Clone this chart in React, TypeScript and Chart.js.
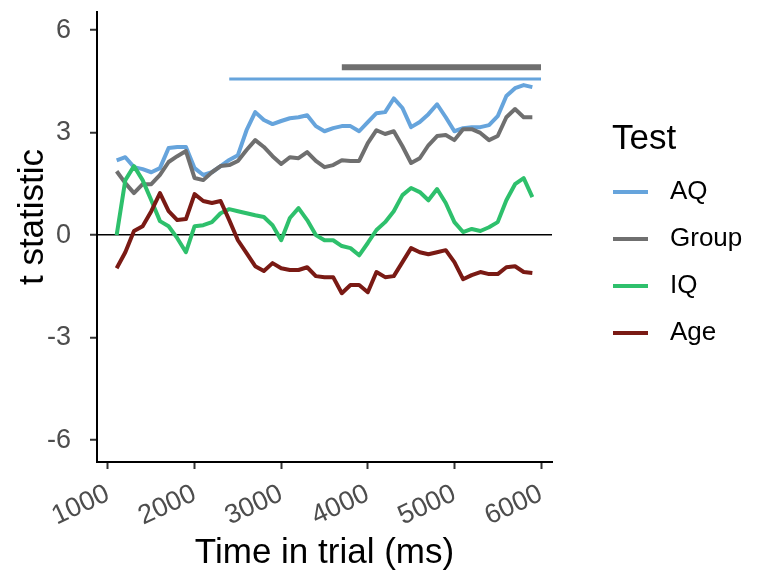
import React, { useEffect, useRef } from 'react';
import { Chart, registerables } from 'chart.js';

Chart.register(...registerables);

const times = [
  1100, 1200, 1300, 1400, 1500, 1600, 1700, 1800, 1900, 2000,
  2100, 2200, 2300, 2400, 2500, 2600, 2700, 2800, 2900, 3000,
  3100, 3200, 3300, 3400, 3500, 3600, 3700, 3800, 3900, 4000,
  4100, 4200, 4300, 4400, 4500, 4600, 4700, 4800, 4900, 5000,
  5100, 5200, 5300, 5400, 5500, 5600, 5700, 5800, 5900,
];

const aq = [
  2.19, 2.28, 1.99, 1.93, 1.84, 1.96, 2.55, 2.58, 2.58, 1.96,
  1.76, 1.84, 2.02, 2.2, 2.34, 3.07, 3.6, 3.37, 3.25, 3.34,
  3.42, 3.45, 3.51, 3.19, 3.04, 3.13, 3.19, 3.19, 3.04, 3.31,
  3.57, 3.6, 4.0, 3.72, 3.16, 3.31, 3.54, 3.83, 3.45, 3.04,
  3.13, 3.16, 3.16, 3.22, 3.48, 4.07, 4.3, 4.39, 4.33,
];

const group = [
  1.87, 1.52, 1.23, 1.49, 1.49, 1.76, 2.14, 2.31, 2.46, 1.67,
  1.61, 1.84, 2.02, 2.05, 2.17, 2.49, 2.78, 2.58, 2.31, 2.08,
  2.28, 2.25, 2.43, 2.17, 1.99, 2.05, 2.19, 2.17, 2.17, 2.69,
  3.07, 2.96, 3.04, 2.6, 2.11, 2.25, 2.63, 2.9, 2.93, 2.78,
  3.1, 3.1, 2.99, 2.78, 2.9, 3.45, 3.69, 3.45, 3.45,
];

const iq = [
  0, 1.61, 2.02, 1.61, 1.02, 0.41, 0.26, -0.09, -0.5, 0.26,
  0.29, 0.38, 0.64, 0.76, 0.7, 0.64, 0.58, 0.53, 0.29, -0.15,
  0.5, 0.79, 0.44, 0, -0.15, -0.15, -0.32, -0.38, -0.59, -0.23,
  0.15, 0.38, 0.7, 1.17, 1.38, 1.26, 1.02, 1.35, 0.94, 0.38,
  0.09, 0.18, 0.12, 0.23, 0.38, 1.02, 1.49, 1.67, 1.11,
];

const age = [
  -0.97, -0.5, 0.12, 0.26, 0.7, 1.23, 0.7, 0.44, 0.47, 1.2,
  1.0, 0.94, 1.0, 0.44, -0.15, -0.53, -0.91, -1.05, -0.82, -0.97,
  -1.02, -1.02, -0.94, -1.2, -1.23, -1.23, -1.7, -1.46, -1.46, -1.67,
  -1.08, -1.23, -1.2, -0.79, -0.38, -0.5, -0.56, -0.5, -0.44, -0.79,
  -1.29, -1.17, -1.08, -1.14, -1.14, -0.94, -0.91, -1.08, -1.11,
];

const seriesNames = ['AQ', 'Group', 'IQ', 'Age'];
const seriesColors = ['#66a4dc', '#6f6f6f', '#2ec06c', '#7a1a14'];
const legendTitle = 'Test';
const yTitle = 't statistic';
const xTitle = 'Time in trial (ms)';

// significance bars (time range, t level)
const sigAQRange = [2400, 6000];
const sigAQLevel = 4.57;
const sigGroupRange = [3700, 6000];
const sigGroupLevel = 4.91;

const xTicks = [1000, 2000, 3000, 4000, 5000, 6000];
const yTicks = [-6, -3, 0, 3, 6];
const xMin = 873;
const xMax = 6127;
const yMin = -6.64;
const yMax = 6.53;

const FONT = "'Liberation Sans', Arial, Helvetica, sans-serif";

export default function App() {
  const ref = useRef<HTMLCanvasElement>(null);

  useEffect(() => {
    const canvas = ref.current;
    if (!canvas) return;
    const allSeries = [aq, group, iq, age];

    const lineSets = allSeries.map((vals, i) => ({
      label: seriesNames[i],
      data: times.map((t, j) => ({ x: t, y: vals[j] })),
      borderColor: seriesColors[i],
      backgroundColor: seriesColors[i],
      borderWidth: 4,
      pointRadius: 0,
      fill: false,
      tension: 0,
      borderJoinStyle: 'round' as const,
      order: 10 - i,
    }));

    const sigSets = [
      {
        label: 'sigAQ',
        data: sigAQRange.map((t) => ({ x: t, y: sigAQLevel })),
        borderColor: seriesColors[0],
        borderWidth: 3,
        pointRadius: 0,
        fill: false,
        order: 1,
      },
      {
        label: 'sigGroup',
        data: sigGroupRange.map((t) => ({ x: t, y: sigGroupLevel })),
        borderColor: seriesColors[1],
        borderWidth: 6,
        pointRadius: 0,
        fill: false,
        order: 1,
      },
    ];

    const textPlugin = {
      id: 'customText',
      afterDraw(chart: any) {
        const c = chart.ctx;
        c.save();
        c.fillStyle = '#000';
        c.textAlign = 'left';
        c.textBaseline = 'middle';
        c.font = `35px ${FONT}`;
        c.fillText(legendTitle, 612, 139);
        c.font = `26px ${FONT}`;
        seriesNames.forEach((n, i) => {
          const y = 192 + i * 47;
          c.strokeStyle = seriesColors[i];
          c.lineWidth = 4;
          c.beginPath();
          c.moveTo(613, y);
          c.lineTo(648, y);
          c.stroke();
          c.fillStyle = '#000';
          c.fillText(n, 670, y);
        });
        // y axis title
        c.translate(33, 217);
        c.rotate(-Math.PI / 2);
        c.textAlign = 'center';
        c.font = `35px ${FONT}`;
        c.fillText(yTitle, 0, 0);
        c.restore();
      },
    };

    const chart = new Chart(canvas, {
      type: 'line',
      data: { datasets: [...lineSets, ...sigSets] as any },
      options: {
        animation: false,
        responsive: true,
        maintainAspectRatio: false,
        layout: { padding: { top: 12, right: 205, left: 0, bottom: 0 } },
        plugins: { legend: { display: false }, tooltip: { enabled: false } },
        scales: {
          x: {
            type: 'linear',
            min: xMin,
            max: xMax,
            afterBuildTicks: (s: any) => {
              s.ticks = xTicks.map((v) => ({ value: v }));
            },
            afterFit: (s: any) => {
              s.height = 115;
              s.paddingLeft = 0;
              s.paddingRight = 0;
            },
            ticks: {
              callback: (v: any) => String(v),
              minRotation: 25,
              maxRotation: 25,
              autoSkip: false,
              color: '#4d4d4d',
              padding: 9,
              font: { size: 27, family: FONT },
            },
            grid: {
              drawOnChartArea: false,
              drawTicks: true,
              tickLength: 7,
              tickColor: '#333',
              tickWidth: 2,
            },
            border: { display: true, color: '#000', width: 2 },
            title: {
              display: true,
              text: xTitle,
              color: '#000',
              font: { size: 35, family: FONT },
              padding: { top: 0, bottom: 3 },
            },
          },
          y: {
            type: 'linear',
            min: yMin,
            max: yMax,
            afterBuildTicks: (s: any) => {
              s.ticks = yTicks.map((v) => ({ value: v }));
            },
            afterFit: (s: any) => {
              s.width = 97;
              s.paddingTop = 0;
              s.paddingBottom = 0;
            },
            ticks: {
              callback: (v: any) => String(v),
              color: '#4d4d4d',
              padding: 19,
              font: { size: 27, family: FONT },
            },
            grid: {
              drawOnChartArea: true,
              drawTicks: true,
              tickLength: 7,
              tickColor: '#333',
              tickWidth: 2,
              lineWidth: 1.5,
              color: (ctx: any) => (ctx.tick && ctx.tick.value === 0 ? '#000' : 'rgba(0,0,0,0)'),
            },
            border: { display: true, color: '#000', width: 2 },
            title: { display: false },
          },
        },
      },
      plugins: [textPlugin],
    });

    return () => chart.destroy();
  }, []);

  return (
    <div style={{ position: 'fixed', left: 0, top: 0, width: 757, height: 577, background: '#fff' }}>
      <canvas ref={ref} />
    </div>
  );
}
